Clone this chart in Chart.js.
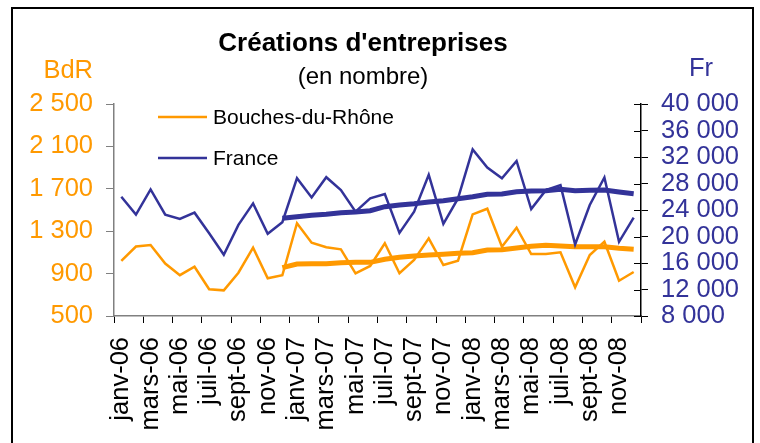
<!DOCTYPE html>
<html lang="fr">
<head>
  <meta charset="UTF-8" />
  <title>Créations d'entreprises</title>
  <script src="https://cdn.jsdelivr.net/npm/chart.js"></script>
  <style>
    body {
      margin: 0;
      background: #fff;
      overflow: hidden;
    }
    #frame {
      position: absolute;
      left: 11px;
      top: 7px;
      width: 739px;
      height: 460px;
      border: 2px solid #000;
      pointer-events: none;
    }
  </style>
</head>
<body>
  <canvas id="chart" width="760" height="443"></canvas>
  <div id="frame"></div>

  <script>
    const months = [
      "janv-06", "févr-06", "mars-06", "avr-06", "mai-06", "juin-06",
      "juil-06", "août-06", "sept-06", "oct-06", "nov-06", "déc-06",
      "janv-07", "févr-07", "mars-07", "avr-07", "mai-07", "juin-07",
      "juil-07", "août-07", "sept-07", "oct-07", "nov-07", "déc-07",
      "janv-08", "févr-08", "mars-08", "avr-08", "mai-08", "juin-08",
      "juil-08", "août-08", "sept-08", "oct-08", "nov-08", "déc-08"
    ];

    // Bouches-du-Rhône, monthly
    const bdr = [
      1020, 1155, 1170, 995, 885, 965, 752, 742, 908, 1145, 856, 884,
      1375, 1192, 1148, 1129, 903, 972, 1186, 903, 1028, 1233, 981, 1022,
      1459, 1512, 1154, 1333, 1085, 1085, 1101, 771, 1075, 1201, 833, 915
    ];
    // Bouches-du-Rhône, 12-month average
    const bdrTrend = [
      null, null, null, null, null, null, null, null, null, null, null, 956,
      991, 993, 993, 1003, 1006, 1006, 1035, 1054, 1066, 1075, 1082, 1091,
      1097, 1123, 1126, 1142, 1157, 1167, 1160, 1154, 1154, 1154, 1139, 1129
    ];

    // France, monthly
    const france = [
      26000, 23300, 27100, 23300, 22650, 23600, 20500, 17250, 21750, 25000, 20400, 22150,
      28800, 25900, 28950, 27000, 23750, 25750, 26400, 20550, 23750, 29300, 21900, 25750,
      33150, 30400, 28800, 31400, 24150, 27000, 27750, 18800, 24750, 28900, 19200, 22850
    ];
    // France, 12-month average
    const franceTrend = [
      null, null, null, null, null, null, null, null, null, null, null, 22750,
      22990, 23200, 23350, 23590, 23700, 23900, 24500, 24750, 24950, 25200, 25400, 25700,
      26000, 26370, 26420, 26760, 26870, 26910, 27120, 26910, 26970, 27020, 26720, 26460
    ];

    const bdrTicks = [500, 900, 1300, 1700, 2100, 2500];
    const franceTicks = [8000, 12000, 16000, 20000, 24000, 28000, 32000, 36000, 40000];

    const ORANGE = "#FF9900";
    const BLUE = "#333399";
    const FONT = "'Liberation Sans', Arial, sans-serif";

    const spaced = v => String(v).replace(/\B(?=(\d{3})+(?!\d))/g, " ");

    // title, axis captions, legend and inner half of the right-axis ticks
    const decor = {
      id: "decor",
      afterDraw(chart) {
        const ctx = chart.ctx;
        const yl = chart.scales.y;
        const yr = chart.scales.y1;
        ctx.save();
        ctx.textBaseline = "alphabetic";

        ctx.fillStyle = "#000";
        ctx.textAlign = "center";
        ctx.font = "bold 26px " + FONT;
        ctx.fillText("Créations d'entreprises", 363, 51);
        ctx.font = "24px " + FONT;
        ctx.fillText("(en nombre)", 363, 84);

        ctx.font = "25.5px " + FONT;
        ctx.fillStyle = ORANGE;
        ctx.textAlign = "right";
        ctx.fillText("BdR", yl.right - 21, 78);
        ctx.fillStyle = BLUE;
        ctx.textAlign = "center";
        ctx.fillText("Fr", yr.left + 60, 76);

        const legend = [["Bouches-du-Rhône", ORANGE, 117], ["France", BLUE, 158]];
        ctx.font = "21px " + FONT;
        ctx.textAlign = "left";
        for (const [label, color, y] of legend) {
          ctx.strokeStyle = color;
          ctx.lineWidth = 2.5;
          ctx.beginPath();
          ctx.moveTo(158, y);
          ctx.lineTo(207, y);
          ctx.stroke();
          ctx.fillStyle = "#000";
          ctx.fillText(label, 213, y + 7);
        }

        ctx.strokeStyle = "#000";
        ctx.lineWidth = 1;
        for (const v of franceTicks) {
          const py = Math.round(yr.getPixelForValue(v)) + 0.5;
          ctx.beginPath();
          ctx.moveTo(yr.left - 7, py);
          ctx.lineTo(yr.left, py);
          ctx.stroke();
        }
        ctx.restore();
      }
    };

    new Chart(document.getElementById("chart"), {
      type: "line",
      data: {
        labels: months,
        datasets: [
          {
            label: "Bouches-du-Rhône",
            data: bdr,
            yAxisID: "y",
            borderColor: ORANGE,
            borderWidth: 2.5,
            pointRadius: 0,
            tension: 0
          },
          {
            label: "France",
            data: france,
            yAxisID: "y1",
            borderColor: BLUE,
            borderWidth: 2.5,
            pointRadius: 0,
            tension: 0
          },
          {
            label: "BdR moyenne",
            data: bdrTrend,
            yAxisID: "y",
            borderColor: ORANGE,
            borderWidth: 5,
            pointRadius: 0,
            tension: 0
          },
          {
            label: "France moyenne",
            data: franceTrend,
            yAxisID: "y1",
            borderColor: BLUE,
            borderWidth: 5,
            pointRadius: 0,
            tension: 0
          }
        ]
      },
      options: {
        responsive: false,
        animation: false,
        devicePixelRatio: 1,
        layout: { padding: { top: 104, left: 0, right: 0, bottom: 0 } },
        plugins: {
          legend: { display: false },
          title: { display: false },
          tooltip: { enabled: false }
        },
        scales: {
          x: {
            type: "category",
            offset: true,
            grid: {
              offset: true,
              drawOnChartArea: false,
              drawTicks: true,
              tickLength: 7,
              color: c => (c.index === undefined || c.index % 2 === 0) ? "#000" : "rgba(0,0,0,0)"
            },
            border: { display: true, color: "#808080", width: 1.5 },
            ticks: {
              autoSkip: false,
              maxRotation: 90,
              minRotation: 90,
              padding: 14,
              color: "#000",
              font: { family: FONT, size: 25.5 },
              callback: (v, i) => i % 2 === 0 ? months[i] : ""
            },
            afterFit: s => { s.height = 127; }
          },
          y: {
            position: "left",
            min: 500,
            max: 2500,
            afterBuildTicks: s => { s.ticks = bdrTicks.map(v => ({ value: v })); },
            grid: {
              drawOnChartArea: false,
              drawTicks: true,
              tickLength: 8,
              color: "#808080"
            },
            border: { display: true, color: "#808080", width: 1.5 },
            ticks: {
              autoSkip: false,
              color: ORANGE,
              padding: 13,
              font: { family: FONT, size: 25.5 },
              callback: v => spaced(v)
            },
            afterFit: s => { s.width = 114; }
          },
          y1: {
            position: "right",
            min: 8000,
            max: 40000,
            afterBuildTicks: s => { s.ticks = franceTicks.map(v => ({ value: v })); },
            grid: {
              drawOnChartArea: false,
              drawTicks: true,
              tickLength: 7,
              color: "#000"
            },
            border: { display: true, color: "#000", width: 1.5 },
            ticks: {
              autoSkip: false,
              color: BLUE,
              padding: 13,
              font: { family: FONT, size: 25.5 },
              callback: v => spaced(v)
            },
            afterFit: s => { s.width = 119; }
          }
        }
      },
      plugins: [decor]
    });
  </script>
</body>
</html>
